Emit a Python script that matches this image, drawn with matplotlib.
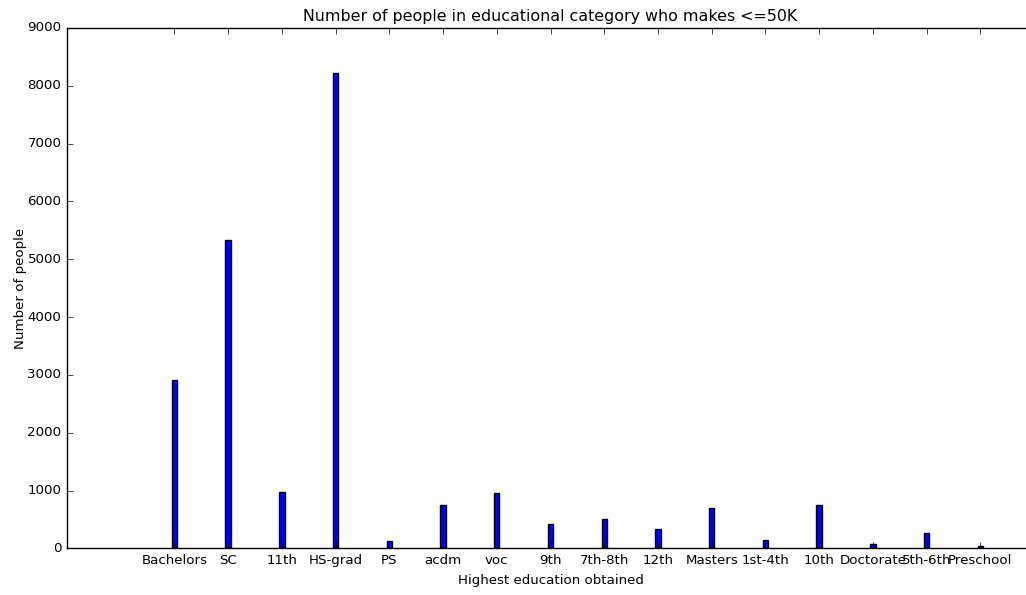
import numpy             as np
import matplotlib
matplotlib.use('Agg')
import matplotlib.pyplot as plt

plt.style.use('classic')

# education levels and counts of people earning <=50K
categories = ['Bachelors', 'SC', '11th', 'HS-grad', 'PS', 'acdm', 'voc', '9th',
              '7th-8th', '12th', 'Masters', '1st-4th', '10th', 'Doctorate',
              '5th-6th', 'Preschool']
counts     = [2915, 5330, 985, 8225, 130, 752, 960, 424,
              516, 337, 701, 142, 758, 83, 273, 43]

fig = plt.figure(figsize = (10.26, 5.95), dpi = 100, facecolor = 'white')
ax  = fig.add_axes([0.0653, 0.0782, 0.9425, 0.8748])

pos = np.arange(len(categories))
ax.bar(pos, counts, width = 0.1, align = 'center', color = 'b', edgecolor = 'k', linewidth = 1)

ax.set_xticks(pos)
ax.set_xticklabels(categories, fontsize = 9.6)
ax.set_xlim(-2, 16)
ax.set_ylim(0, 9000)
ax.tick_params(axis = 'y', labelsize = 9.6, right = False)
ax.spines['right'].set_visible(False)

ax.set_title('Number of people in educational category who makes <=50K', fontsize = 11.4)
ax.set_xlabel('Highest education obtained', fontsize = 9.6)
ax.set_ylabel('Number of people', fontsize = 9.6, labelpad = 0)

fig.savefig('out.png', dpi = 100, facecolor = 'white')
